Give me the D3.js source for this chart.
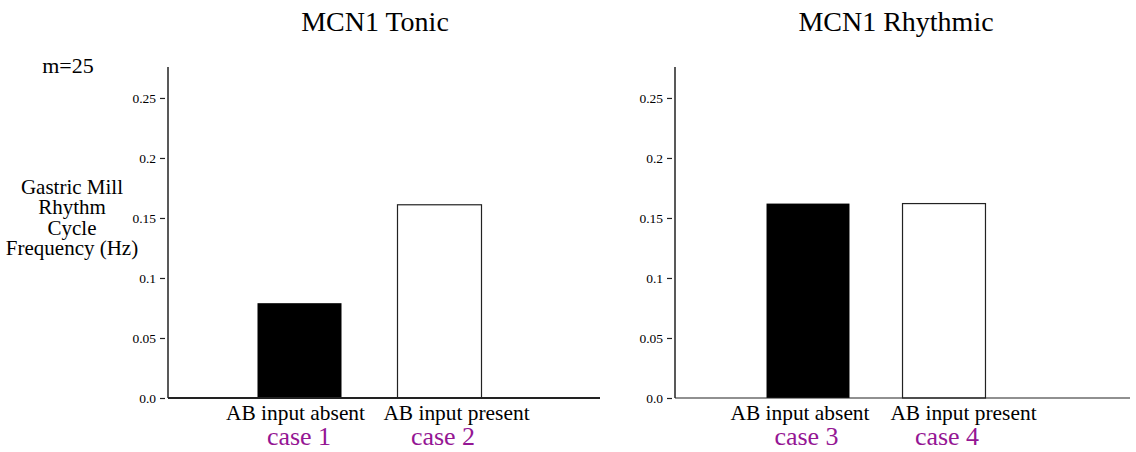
<!DOCTYPE html>
<html>
<head>
<meta charset="utf-8">
<script src="https://cdn.jsdelivr.net/npm/d3@7"></script>
<style>
  body { margin: 0; background: #fff; }
</style>
</head>
<body>
<div id="root"></div>
<script>
const panelTitles = ['MCN1 Tonic', 'MCN1 Rhythmic'];
const conditions = ['AB input absent', 'AB input present'];
const tonicValues = [0.079, 0.161];
const rhythmicValues = [0.162, 0.162];
const caseLabels = [['case 1', 'case 2'], ['case 3', 'case 4']];
const yTicks = [0, 0.05, 0.1, 0.15, 0.2, 0.25];
const yLabelLines = ['Gastric Mill', 'Rhythm', 'Cycle', 'Frequency (Hz)'];

const serif = "'Liberation Serif', 'Times New Roman', Tinos, serif";
const svgWidth = 1136;
const svgHeight = 452;
const baseY = 398;
const topY = 67;

const svg = d3.select('#root').append('svg')
  .attr('width', svgWidth)
  .attr('height', svgHeight);

const yScale = d3.scaleLinear()
  .domain([0, 0.2758])
  .range([baseY, topY]);

const panels = [
  { title: panelTitles[0], values: tonicValues, cases: caseLabels[0],
    axisX: 168, endX: 600, band: [229.5, 509.5], pIn: 0.4, pOut: 0.2, titleX: 375,
    labelShift: [-4, 17], caseShift: [-0.5, 3.5], baseWidth: 2 },
  { title: panelTitles[1], values: rhythmicValues, cases: caseLabels[1],
    axisX: 675, endX: 1130, band: [740, 1012], pIn: 0.39, pOut: 0.195, titleX: 896,
    labelShift: [-8, 19.5], caseShift: [-1.5, 3], baseWidth: 1.2 }
];

panels.forEach(p => {
  const xScale = d3.scaleBand()
    .domain(conditions)
    .range(p.band)
    .paddingInner(p.pIn)
    .paddingOuter(p.pOut);

  const g = svg.append('g');

  g.append('text')
    .attr('x', p.titleX)
    .attr('y', 31)
    .attr('text-anchor', 'middle')
    .style('font-family', serif)
    .style('font-size', '28px')
    .text(p.title);

  // bars
  g.selectAll('rect.bar')
    .data(conditions)
    .enter()
    .append('rect')
    .attr('class', 'bar')
    .attr('x', d => xScale(d))
    .attr('width', xScale.bandwidth())
    .attr('y', (d, i) => yScale(p.values[i]))
    .attr('height', (d, i) => baseY - yScale(p.values[i]))
    .attr('fill', (d, i) => i === 0 ? '#000' : '#fff')
    .attr('stroke', (d, i) => i === 0 ? 'none' : '#222')
    .attr('stroke-width', 1.2);

  // y axis
  const yAxis = g.append('g')
    .attr('transform', `translate(${p.axisX},0)`)
    .call(d3.axisLeft(yScale)
      .tickValues(yTicks)
      .tickSize(0)
      .tickPadding(12)
      .tickFormat(d => d === 0 ? '0.0' : String(d)));
  yAxis.select('.domain').remove();
  yAxis.selectAll('.tick text')
    .style('font-family', serif)
    .style('font-size', '13.5px')
    .attr('fill', '#000');
  yAxis.selectAll('.tick').append('line')
    .attr('x1', -8).attr('x2', -3)
    .attr('stroke', '#222').attr('stroke-width', 1.2);

  g.append('line')
    .attr('x1', p.axisX).attr('x2', p.axisX)
    .attr('y1', topY).attr('y2', baseY)
    .attr('stroke', '#222').attr('stroke-width', 1.5);

  g.append('line')
    .attr('x1', p.axisX).attr('x2', p.endX)
    .attr('y1', baseY).attr('y2', baseY)
    .attr('stroke', '#222').attr('stroke-width', p.baseWidth);

  // category labels
  g.selectAll('text.cond')
    .data(conditions)
    .enter()
    .append('text')
    .attr('class', 'cond')
    .attr('x', (d, i) => xScale(d) + xScale.bandwidth() / 2 + p.labelShift[i])
    .attr('y', 420)
    .attr('text-anchor', 'middle')
    .style('font-family', serif)
    .style('font-size', '21.4px')
    .text(d => d);

  g.selectAll('text.case')
    .data(p.cases)
    .enter()
    .append('text')
    .attr('class', 'case')
    .attr('x', (d, i) => xScale(conditions[i]) + xScale.bandwidth() / 2 + p.caseShift[i])
    .attr('y', 445)
    .attr('text-anchor', 'middle')
    .style('font-family', serif)
    .style('font-size', '26px')
    .attr('fill', '#951694')
    .text(d => d);
});

svg.append('text')
  .attr('x', 68)
  .attr('y', 73)
  .attr('text-anchor', 'middle')
  .style('font-family', serif)
  .style('font-size', '22px')
  .text('m=25');

svg.append('text')
  .attr('x', 72)
  .attr('y', 194)
  .attr('text-anchor', 'middle')
  .style('font-family', serif)
  .style('font-size', '21px')
  .selectAll('tspan')
  .data(yLabelLines)
  .enter()
  .append('tspan')
  .attr('x', 72)
  .attr('dy', (d, i) => i === 0 ? 0 : 20.3)
  .text(d => d);
</script>
</body>
</html>
